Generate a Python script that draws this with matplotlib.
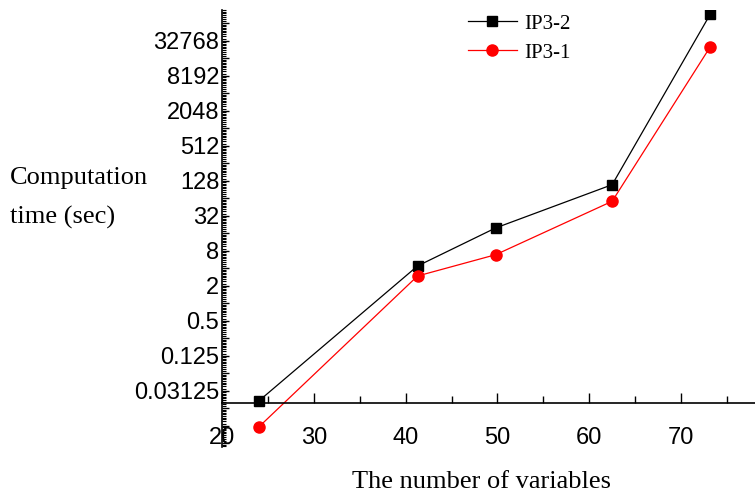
import numpy as np
import matplotlib.pyplot as plt
from matplotlib.ticker import FixedLocator, NullFormatter, FixedFormatter

# ---------------- data ----------------
nvars = [24, 41.3, 49.8, 62.5, 73.2]
ip3_2 = [0.021, 4.42, 19.9, 110.6, 95500]
ip3_1 = [0.0075, 2.97, 6.9, 57.3, 26200]

ytick_vals = [2.0**k for k in range(-5, 16, 2)]
ytick_labels = ["0.03125", "0.125", "0.5", "2", "8", "32", "128", "512",
                "2048", "8192", "32768"]
xtick_vals = [20, 30, 40, 50, 60, 70]

# ---------------- plot ----------------
fig = plt.figure(figsize=(7.55, 4.97), dpi=100)
ax = fig.add_axes([222/755, 50/497, 533/755, 437/497])

ax.plot(nvars, ip3_2, color='black', lw=0.9, marker='s', ms=6.5, label='IP3-2')
ax.plot(nvars, ip3_1, color='red', lw=0.9, marker='o', ms=8, label='IP3-1')

ax.set_yscale('log', base=2)
ax.set_xlim(20, 78.06)
ax.set_ylim(2**-8.2, 2**16.77)

# axes like the original: y axis at x=20, x axis crossing low on the y axis
ax.spines['top'].set_visible(False)
ax.spines['right'].set_visible(False)
ax.spines['bottom'].set_position(('data', 2**-5.686))
ax.spines['left'].set_linewidth(1.2)
ax.spines['bottom'].set_linewidth(1.2)

# y ticks
ax.yaxis.set_major_locator(FixedLocator([2.0**k for k in range(-8, 17)]))
ylabs = []
for k in range(-8, 17):
    v = 2.0**k
    if v in ytick_vals:
        ylabs.append(ytick_labels[ytick_vals.index(v)])
    else:
        ylabs.append("")
ax.yaxis.set_major_formatter(FixedFormatter(ylabs))
minors = []
for k in range(-9, 17):
    for s in np.arange(1.1, 2, 0.1):
        minors.append(s * 2.0**k)
ax.yaxis.set_minor_locator(FixedLocator(minors))
ax.yaxis.set_minor_formatter(NullFormatter())
ax.tick_params(axis='y', which='major', direction='in', length=5, width=1,
               pad=2, labelsize=17)
ax.tick_params(axis='y', which='minor', direction='in', length=3, width=0.8)

# x ticks
ax.set_xticks(xtick_vals)
ax.set_xticks([25, 35, 45, 55, 65, 75], minor=True)
ax.tick_params(axis='x', which='major', direction='in', length=7, width=1,
               pad=17, labelsize=17)
ax.tick_params(axis='x', which='minor', direction='in', length=5, width=1)
for lab in ax.get_xticklabels() + ax.get_yticklabels():
    lab.set_family('Liberation Sans')

fig.text(10/755, 1 - 178/497, "Computation", family='Liberation Serif',
         fontsize=19, va='center', ha='left')
fig.text(10/755, 1 - 217/497, "time (sec)", family='Liberation Serif',
         fontsize=19, va='center', ha='left')
fig.text(481/755, 1 - 482/497, "The number of variables",
         family='Liberation Serif', fontsize=19, va='center', ha='center')

ax.legend(loc='upper left', bbox_to_anchor=(468/755, 1 - 14/497),
          bbox_transform=fig.transFigure, frameon=False, borderpad=0,
          borderaxespad=0, handlelength=2.35, handletextpad=0.35,
          labelspacing=0.45, prop={'family': 'Liberation Serif', 'size': 15})

plt.savefig('out.png', dpi=100)
